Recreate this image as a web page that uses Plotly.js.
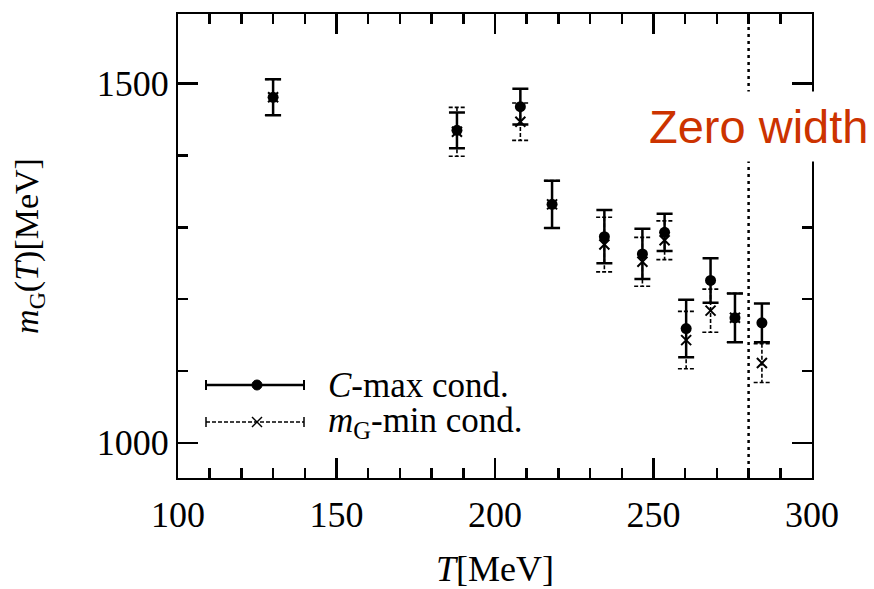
<!DOCTYPE html>
<html>
<head>
<meta charset="utf-8">
<script src="https://cdn.plot.ly/plotly-3.0.1.min.js"></script>
<style>html,body{margin:0;padding:0;background:#fff;}#chart{width:874px;height:589px;}</style>
</head>
<body>
<div id="chart"></div>
<script>
// Data
const T = [130, 188, 208, 218, 234.5, 246.5, 253.5, 260.3, 268, 275.7, 284.2];
const cmaxMass = [1481, 1435, 1468, 1332, 1287, 1263, 1293, 1159, 1226, 1174, 1167];
const cmaxErr  = [25, 25, 25, 33, 37, 35, 26, 40, 31, 34, 27];
const mgminMass = [1481, 1433, 1447, 1332, 1276, 1252, 1282, 1143, 1184, 1174, 1111];
const mgminErr  = [25, 34, 26, 33, 38, 34, 27, 40, 30, 34, 27];
const zeroWidthT = [280];
const legendLabels = ['<i>C</i>-max cond.', '<i>m</i><sub>G</sub>-min cond.'];
const annotationText = 'Zero width';

// dashed error bars for mG-min (built from data)
const capHalf = 2.6;
const ebx = [], eby = [];
for (let i = 0; i < T.length; i++) {
  const lo = mgminMass[i] - mgminErr[i], hi = mgminMass[i] + mgminErr[i];
  ebx.push(T[i] - capHalf, T[i] + capHalf, null, T[i], T[i], null, T[i] - capHalf, T[i] + capHalf, null);
  eby.push(hi, hi, null, hi, lo, null, lo, lo, null);
}

const serif = 'Liberation Serif, Times New Roman, serif';

const traces = [
  {
    x: ebx, y: eby, mode: 'lines', type: 'scatter', hoverinfo: 'skip',
    line: {color: 'black', width: 1.6, dash: '4px,2px'}, showlegend: false
  },
  {
    x: T, y: mgminMass, mode: 'markers', type: 'scatter',
    marker: {symbol: 'x-thin-open', size: 10, color: 'black', line: {color: 'black', width: 2}},
    showlegend: false
  },
  {
    x: T, y: cmaxMass, mode: 'markers', type: 'scatter',
    marker: {symbol: 'circle', size: 11, color: 'black'},
    error_y: {type: 'data', array: cmaxErr, visible: true, width: 8, thickness: 2.5, color: 'black'},
    showlegend: false
  }
];

const L = 178, R = 812, TOP = 14, BOT = 478;
const px = v => (v - L) / (R - L);
const py = v => (BOT - v) / (BOT - TOP);

const leg1y = py(385), leg2y = py(422);
const lx0 = px(206), lx1 = px(304), lmid = px(257);

const shapes = [
  {type: 'line', xref: 'x', yref: 'paper', x0: zeroWidthT[0], x1: zeroWidthT[0], y0: 0, y1: 1,
   line: {color: 'black', width: 2.5, dash: '3px,4px'}},
  // legend row 1
  {type: 'line', xref: 'paper', yref: 'paper', x0: lx0, x1: lx1, y0: leg1y, y1: leg1y, line: {color: 'black', width: 2.5}},
  {type: 'line', xref: 'paper', yref: 'paper', xsizemode: 'pixel', xanchor: lx0, x0: 0, x1: 0,
   ysizemode: 'pixel', yanchor: leg1y, y0: -5, y1: 5, line: {color: 'black', width: 2}},
  {type: 'line', xref: 'paper', yref: 'paper', xsizemode: 'pixel', xanchor: lx1, x0: 0, x1: 0,
   ysizemode: 'pixel', yanchor: leg1y, y0: -5, y1: 5, line: {color: 'black', width: 2}},
  {type: 'circle', xref: 'paper', yref: 'paper', xsizemode: 'pixel', xanchor: lmid, x0: -5, x1: 5,
   ysizemode: 'pixel', yanchor: leg1y, y0: -5, y1: 5, fillcolor: 'black', line: {color: 'black', width: 1}},
  // legend row 2
  {type: 'line', xref: 'paper', yref: 'paper', x0: lx0, x1: lx1, y0: leg2y, y1: leg2y, line: {color: 'black', width: 1.6, dash: '4px,2px'}},
  {type: 'line', xref: 'paper', yref: 'paper', xsizemode: 'pixel', xanchor: lx0, x0: 0, x1: 0,
   ysizemode: 'pixel', yanchor: leg2y, y0: -5, y1: 5, line: {color: 'black', width: 1.5}},
  {type: 'line', xref: 'paper', yref: 'paper', xsizemode: 'pixel', xanchor: lx1, x0: 0, x1: 0,
   ysizemode: 'pixel', yanchor: leg2y, y0: -5, y1: 5, line: {color: 'black', width: 1.5}},
  {type: 'line', xref: 'paper', yref: 'paper', xsizemode: 'pixel', xanchor: lmid, x0: -5, x1: 5,
   ysizemode: 'pixel', yanchor: leg2y, y0: -5, y1: 5, line: {color: 'black', width: 1.5}},
  {type: 'line', xref: 'paper', yref: 'paper', xsizemode: 'pixel', xanchor: lmid, x0: -5, x1: 5,
   ysizemode: 'pixel', yanchor: leg2y, y0: 5, y1: -5, line: {color: 'black', width: 1.5}}
];

const annotations = [
  {xref: 'paper', yref: 'paper', x: px(327), y: leg1y, xanchor: 'left', yanchor: 'middle', showarrow: false,
   text: legendLabels[0], borderpad: 0, font: {family: serif, size: 35, color: 'black'}},
  {xref: 'paper', yref: 'paper', x: px(327), y: leg2y, xanchor: 'left', yanchor: 'middle', showarrow: false,
   text: legendLabels[1], borderpad: 0, font: {family: serif, size: 35, color: 'black'}},
  {xref: 'paper', yref: 'paper', x: px(758), y: py(126), xanchor: 'center', yanchor: 'middle', showarrow: false,
   text: annotationText, bgcolor: 'white', borderpad: 8,
   font: {family: 'Liberation Sans, Arial, sans-serif', size: 47, color: '#cc3300'}}
];

const layout = {
  width: 874, height: 589,
  margin: {l: L, r: 874 - R, t: TOP, b: 589 - BOT},
  paper_bgcolor: 'white', plot_bgcolor: 'white',
  showlegend: false,
  font: {family: serif, color: 'black', size: 35},
  xaxis: {
    range: [100, 300], tick0: 100, dtick: 50, ticks: 'inside', ticklen: 20, tickwidth: 2.5, tickcolor: 'black',
    showline: true, linecolor: 'black', linewidth: 2, mirror: 'ticks', showgrid: false, zeroline: false,
    minor: {dtick: 10, ticks: 'inside', ticklen: 10, tickwidth: 2.5, tickcolor: 'black', showgrid: false},
    tickfont: {family: serif, size: 36, color: 'black'}, ticklabelstandoff: 4,
    title: {text: '<i>T</i>[MeV]', font: {family: serif, size: 36, color: 'black'}, standoff: 28}
  },
  yaxis: {
    range: [951, 1597], tick0: 1000, dtick: 500, ticks: 'inside', ticklen: 20, tickwidth: 2.5, tickcolor: 'black',
    showline: true, linecolor: 'black', linewidth: 2, mirror: 'ticks', showgrid: false, zeroline: false,
    minor: {dtick: 100, tick0: 1000, ticks: 'inside', ticklen: 10, tickwidth: 2.5, tickcolor: 'black', showgrid: false},
    tickfont: {family: serif, size: 36, color: 'black'},
    title: {text: '<i>m</i><sub>G</sub>(<i>T</i>)[MeV]', font: {family: serif, size: 34, color: 'black'}, standoff: 48}
  },
  shapes: shapes,
  annotations: annotations
};

Plotly.newPlot('chart', traces, layout, {displayModeBar: false, staticPlot: true});
</script>
</body>
</html>
